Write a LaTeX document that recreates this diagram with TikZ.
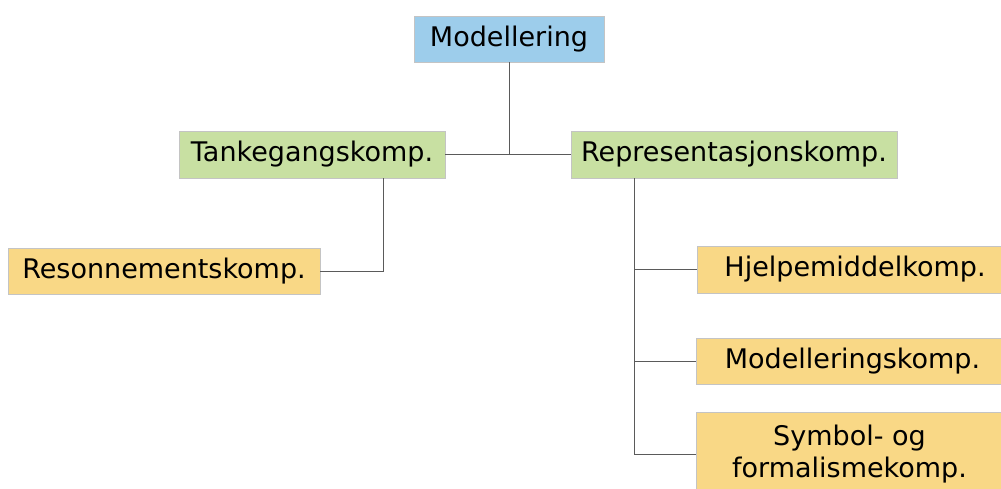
\documentclass[tikz,border=0pt]{standalone}
\usepackage{fontspec}
\setmainfont{DejaVu Sans}
\usetikzlibrary{positioning}
\definecolor{topblue}{HTML}{9DCDEB}
\definecolor{midgreen}{HTML}{C8E0A2}
\definecolor{leafyellow}{HTML}{F9D886}
\definecolor{boxline}{HTML}{C4C4C4}
\definecolor{conline}{HTML}{5A5A5A}

\begin{document}
\begin{tikzpicture}[x=1pt,y=-1pt]
			\useasboundingbox (0,0) rectangle (1001,489);
			\begin{scope}[every node/.style={rectangle,draw=boxline,line width=0.6pt,inner sep=0pt,
				align=center,font=\fontsize{27}{32}\selectfont}]
				\node[fill=topblue,minimum width=190pt,minimum height=46pt] (mod) at (509,39) {Modellering};
				\node[fill=midgreen,minimum width=266pt,minimum height=47pt] (tank) at (312,154.5) {Tankegangskomp.};
				\node[fill=midgreen,minimum width=326pt,minimum height=47pt] (repr) at (734,154.5) {Representasjonskomp.};
				\node[fill=leafyellow,minimum width=312pt,minimum height=46pt] (reson) at (164,271) {Resonnementskomp.};
				\node[fill=leafyellow,minimum width=306pt,minimum height=47pt] (hjelp) at (850,269.5) {\hspace*{10pt}Hjelpemiddelkomp.};
				\node[fill=leafyellow,minimum width=307pt,minimum height=46pt] (modkomp) at (849.5,361) {\hspace*{6pt}Modelleringskomp.};
				\node[fill=leafyellow,minimum width=307pt,minimum height=84pt] (symb) at (849.5,454) {Symbol- og\\formalismekomp.};
			\end{scope}

			\begin{scope}[every path/.style={draw=conline,line width=0.8pt}]
				\path (mod) -- (mod |- tank);
				\path (tank) -- (repr);
				\path (reson.east) -| ([xshift=71pt]tank.south);
				\path ([xshift=-100pt]repr.south) |- (symb.west);
				\path (hjelp.west) -| ([xshift=-100pt]repr.south);
				\path (modkomp.west) -| ([xshift=-100pt]repr.south);
			\end{scope}
		\end{tikzpicture}
\end{document}
